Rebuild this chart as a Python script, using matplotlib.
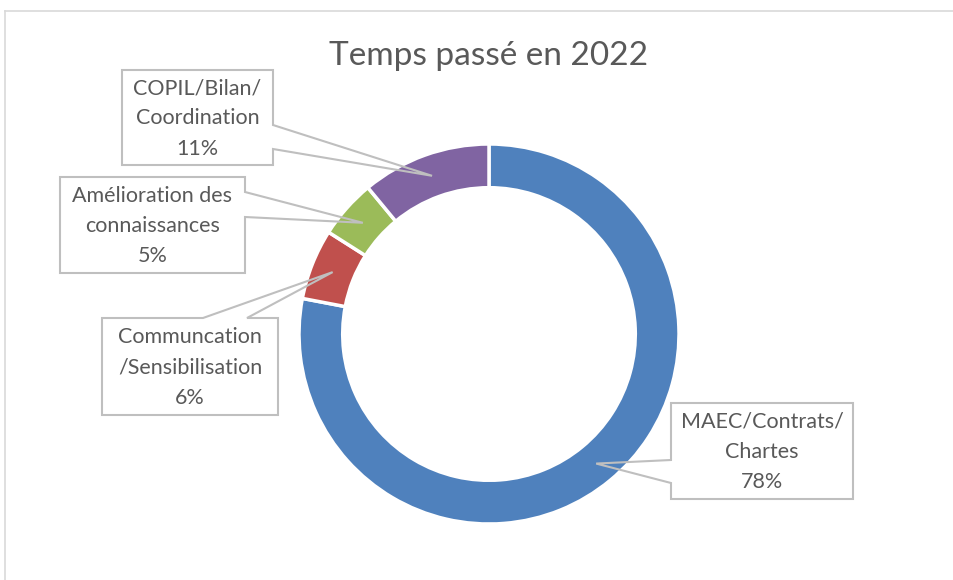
import matplotlib.pyplot as plt
from matplotlib.patches import Polygon
from matplotlib.lines import Line2D
import numpy as np

# data
categories = ['MAEC/Contrats/\nChartes', 'Communcation\n/Sensibilisation',
              'Amélioration des\nconnaissances', 'COPIL/Bilan/\nCoordination']
values = [78, 6, 5, 11]
colors = ['#4F81BD', '#C0504D', '#9BBB59', '#8064A2']

W, H = 954, 580
cx, cy, R = 489, 334, 190   # donut centre / radius in pixels
ring = 0.23

# label boxes (pixels): left, top, right, bottom, side of the pointer, pointer base
boxes = [
    (671, 403, 853, 499, 'left', (460, 483)),
    (102, 318, 278, 415, 'top', (203, 247)),
    (60, 177, 245, 273, 'right', (192, 217)),
    (122, 70, 273, 165, 'right', (125, 149)),
]

def to_data(px, py):
    return ((px - cx) / R, (cy - py) / R)

fig = plt.figure(figsize=(W / 100, H / 100), dpi=100)
ax = fig.add_axes([0, 0, 1, 1])
ax.pie(values, colors=colors, startangle=90, counterclock=False, radius=1,
       wedgeprops=dict(width=ring, edgecolor='white', linewidth=2.5))
ax.set_xlim(-cx / R, (W - cx) / R)
ax.set_ylim(-(H - cy) / R, cy / R)
ax.axis('off')

# chart frame
fig.add_artist(Line2D([5 / W, 5 / W], [0, 1 - 11 / H], color='#D9D9D9', lw=1.2))
fig.add_artist(Line2D([5 / W, 1], [1 - 11 / H, 1 - 11 / H], color='#D9D9D9', lw=1.2))

ax.text(*to_data(489, 56), 'Temps passé en 2022', ha='center', va='center',
        fontsize=24, color='#595959', family=['Lato', 'DejaVu Sans'])

total = sum(values)
start = 90.0
for cat, v, (l, t, r, b, side, base) in zip(categories, values, boxes):
    span = 360.0 * v / total
    mid = np.deg2rad(start - span / 2)
    start -= span
    rm = 1 - ring / 2
    tip = (rm * np.cos(mid), rm * np.sin(mid))
    TL, TR, BR, BL = to_data(l, t), to_data(r, t), to_data(r, b), to_data(l, b)
    if side == 'right':
        pts = [TL, TR, to_data(r, base[0]), tip, to_data(r, base[1]), BR, BL]
    elif side == 'left':
        pts = [TL, TR, BR, BL, to_data(l, base[1]), tip, to_data(l, base[0])]
    else:
        pts = [TL, to_data(base[0], t), tip, to_data(base[1], t), TR, BR, BL]
    ax.add_patch(Polygon(pts, closed=True, fill=False, edgecolor='#BFBFBF', lw=1.5))
    ax.text(*to_data((l + r) / 2, (t + b) / 2 + 1), f'{cat}\n{v}%', ha='center', va='center',
            fontsize=15.5, color='#595959', linespacing=1.65, family=['Lato', 'DejaVu Sans'])

fig.savefig('out.png', dpi=100, facecolor='white')
